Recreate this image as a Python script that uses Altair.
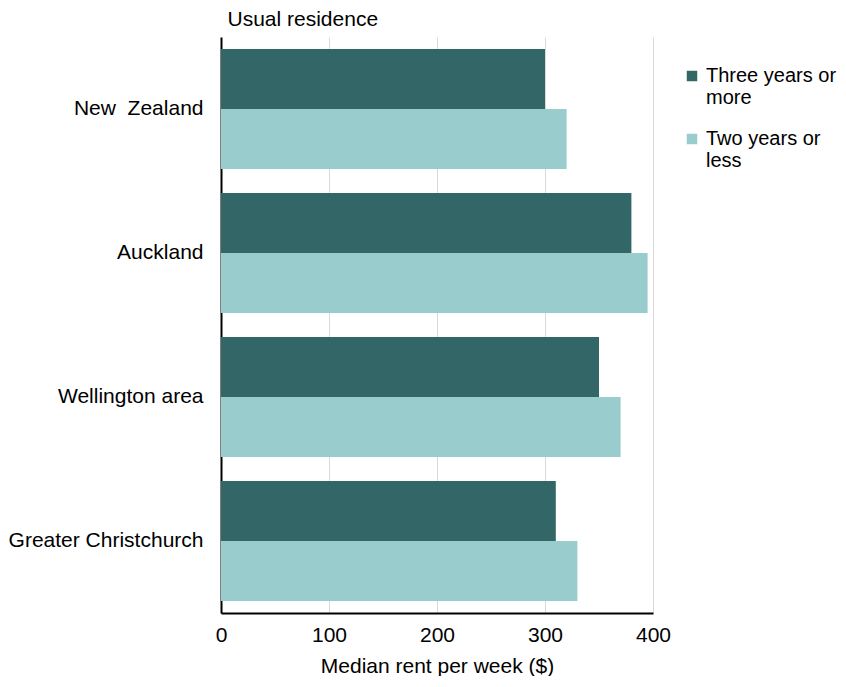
import altair as alt
import pandas as pd

regions = ["New\u00a0 Zealand", "Auckland", "Wellington area", "Greater Christchurch"]
series = ["Three years or more", "Two years or less"]
three_plus = [300, 380, 350, 310]
two_less = [320, 395, 370, 330]
colors = ["#336666", "#99cccc"]

rows = []
for i, r in enumerate(regions):
    rows.append({"region": r, "series": series[0], "rent": three_plus[i]})
    rows.append({"region": r, "series": series[1], "rent": two_less[i]})
df = pd.DataFrame(rows)

font = "Liberation Sans"
fs = 21

chart = alt.Chart(df).mark_bar().encode(
    y=alt.Y("region:N", sort=regions,
            scale=alt.Scale(paddingInner=0.167, paddingOuter=0.083),
            axis=alt.Axis(title="Usual residence", titleAngle=0, titleAlign="left",
                          titleBaseline="middle", titleX=6, titleY=-18,
                          titleFont=font, titleFontSize=fs, titleFontWeight="normal",
                          titleColor="black",
                          labelFont=font, labelFontSize=fs, labelColor="black",
                          labelLimit=300,
                          labelPadding=18, ticks=False, domainColor="black",
                          domainWidth=2, grid=False)),
    yOffset=alt.YOffset("series:N", sort=series),
    x=alt.X("rent:Q", scale=alt.Scale(domain=[0, 400]),
            axis=alt.Axis(title="Median rent per week ($)", values=[0, 100, 200, 300, 400],
                          titleFont=font, titleFontSize=fs, titleFontWeight="normal",
                          titleColor="black", titlePadding=10,
                          labelFont=font, labelFontSize=fs, labelColor="black",
                          labelPadding=11, labelFlush=False, ticks=False,
                          domainColor="black", domainWidth=2,
                          grid=True, gridColor="#d9d9d9", gridWidth=1)),
    color=alt.Color("series:N", sort=series,
                    scale=alt.Scale(domain=series, range=colors),
                    legend=alt.Legend(title=None, orient="none", legendX=461, legendY=29,
                                      symbolType="square",
                                      symbolSize=110, symbolStrokeWidth=0,
                                      labelFont=font, labelFontSize=20,
                                      labelOffset=4,
                                      labelColor="black", labelLimit=200,
                                      labelExpr="datum.label == 'Three years or more' ? ['Three years or', 'more'] : ['Two years or', 'less']",
                                      rowPadding=21, padding=0)),
).properties(
    width=432, height=576,
    padding=0,
).configure_view(stroke=None)

chart.save("out.html", embed_options={"renderer": "svg", "actions": False})
